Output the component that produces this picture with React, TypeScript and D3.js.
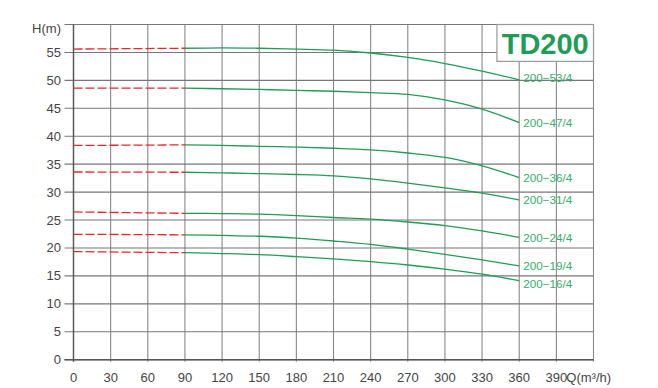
import * as d3 from "d3";

const W = 658, H = 388;
const M = { left: 73.5, right: 593.5, top: 24.5, bottom: 359.7 };

const X_TICKS = [0, 30, 60, 90, 120, 150, 180, 210, 240, 270, 300, 330, 360, 390];
const Y_TICKS = [0, 5, 10, 15, 20, 25, 30, 35, 40, 45, 50, 55];

const MODELS = ["200−53/4", "200−47/4", "200−36/4", "200−31/4", "200−24/4", "200−19/4", "200−16/4"];

// Q points of the solid (working range) part
const Q = [90, 120, 150, 180, 210, 240, 270, 300, 330, 360];

const H_53 = [55.75, 55.8, 55.75, 55.6, 55.4, 54.9, 54.1, 53.0, 51.65, 50.1];
const H_47 = [48.6, 48.5, 48.37, 48.2, 48.05, 47.8, 47.5, 46.5, 44.85, 42.45];
const H_36 = [38.45, 38.35, 38.2, 38.05, 37.85, 37.55, 37.0, 36.2, 34.7, 32.6];
const H_31 = [33.55, 33.45, 33.3, 33.15, 32.9, 32.35, 31.6, 30.75, 29.8, 28.6];
const H_24 = [26.2, 26.15, 26.05, 25.8, 25.45, 25.15, 24.65, 24.0, 23.05, 21.9];
const H_19 = [22.35, 22.25, 22.1, 21.75, 21.25, 20.65, 19.8, 18.85, 17.85, 16.8];
const H_16 = [19.15, 19.0, 18.8, 18.45, 18.05, 17.55, 16.95, 16.2, 15.3, 14.15];
const SERIES = [H_53, H_47, H_36, H_31, H_24, H_19, H_16];

// dashed (low flow) part: head at Q=0
const DASH_START = [55.6, 48.6, 38.35, 33.6, 26.45, 22.45, 19.35];
const LABEL_DY = [-2, 0, 0, 0, 0, 0, 3];

const GREEN = "#1f9d55";
const LABEL_GREEN = "#36ad6c";
const RED = "#e8262d";
const AXIS = "#555";
const TEXT = "#444";

export default function App() {
  const x = d3.scaleLinear().domain([0, 420]).range([M.left, M.right]);
  const y = d3.scaleLinear().domain([0, 60]).range([M.bottom, M.top]);

  const line = d3
    .line<[number, number]>()
    .x((d) => x(d[0]))
    .y((d) => y(d[1]))
    .curve(d3.curveCatmullRom.alpha(0.5));

  const font = "'Liberation Sans', Arial, sans-serif";

  return (
    <svg width={W} height={H} style={{ position: "absolute", left: 0, top: 0, background: "#fff" }} fontFamily={font}>
      {/* grid */}
      {d3.range(0, 421, 30).map((q) => (
        <line key={"v" + q} x1={x(q)} x2={x(q)} y1={y(60)} y2={y(0) + 2} stroke="#888" strokeWidth={1.1} />
      ))}
      {d3.range(0, 61, 5).map((h) => (
        <line key={"h" + h} x1={M.left - 9} x2={M.right} y1={y(h)} y2={y(h)} stroke="#777" strokeWidth={1.1} />
      ))}
      <line x1={M.left} x2={M.left} y1={y(60)} y2={y(0) + 2} stroke={AXIS} strokeWidth={1.4} />
      <line x1={M.left - 9} x2={M.right} y1={y(0)} y2={y(0)} stroke={AXIS} strokeWidth={1.4} />

      {/* y labels */}
      {Y_TICKS.map((h) => (
        <text key={"yl" + h} x={61} y={y(h)} textAnchor="end" dominantBaseline="central" fontSize={13} fill={TEXT}>
          {h}
        </text>
      ))}
      <text x={61} y={y(60) + 4} textAnchor="end" dominantBaseline="central" fontSize={13} fill={TEXT}>
        H(m)
      </text>

      {/* x labels */}
      {X_TICKS.map((q) => (
        <text key={"xl" + q} x={x(q)} y={y(0) + 18} textAnchor="middle" dominantBaseline="central" fontSize={13} fill={TEXT}>
          {q}
        </text>
      ))}
      <text x={x(390) + 10} y={y(0) + 18} dominantBaseline="central" fontSize={13} fill={TEXT}>
        Q(m³/h)
      </text>

      {/* curves */}
      {SERIES.map((vals, i) => {
        const solid: [number, number][] = Q.map((q, j) => [q, vals[j]]);
        const dashed: [number, number][] = [[0, DASH_START[i]], [Q[0], vals[0]]];
        return (
          <g key={MODELS[i]}>
            <path d={line(dashed) ?? ""} fill="none" stroke={RED} strokeWidth={1.3} strokeDasharray="9,3" />
            <path d={line(solid) ?? ""} fill="none" stroke={GREEN} strokeWidth={1.3} />
          </g>
        );
      })}

      {/* title box */}
      <rect x={x(342)} y={y(60)} width={x(420) - x(342)} height={y(53.4) - y(60)} fill="#fff" stroke="#999" strokeWidth={1.2} />
      <text x={(x(342) + x(420)) / 2} y={y(56.7) + 1} textAnchor="middle" dominantBaseline="central" fontSize={29} fontWeight="bold" fill={GREEN}>
        TD200
      </text>

      {/* model labels */}
      {SERIES.map((vals, i) => (
        <text
          key={"lab" + i}
          x={x(360) + 4}
          y={y(vals[vals.length - 1]) + LABEL_DY[i]}
          dominantBaseline="central"
          fontSize={11.7}
          fill={LABEL_GREEN}
        >
          {MODELS[i]}
        </text>
      ))}
    </svg>
  );
}
